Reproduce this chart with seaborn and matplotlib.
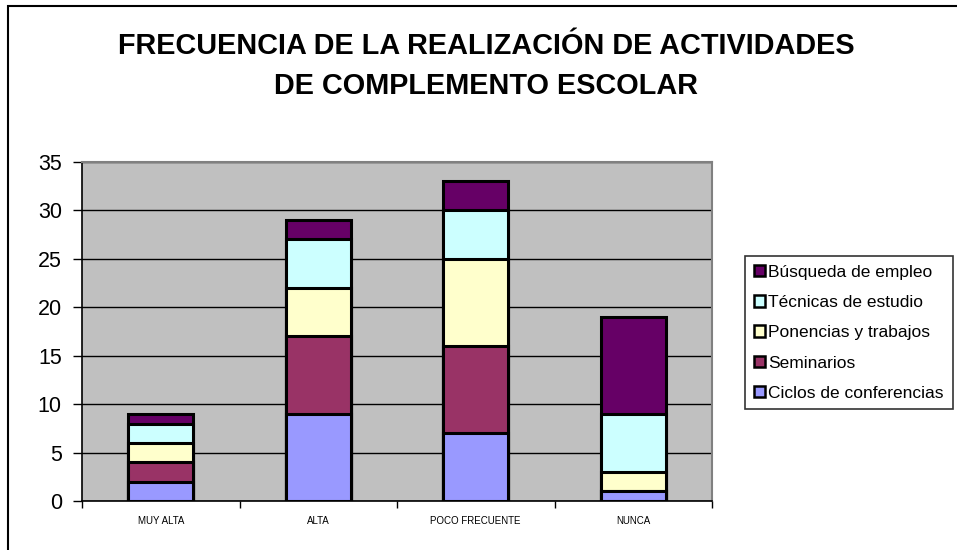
import matplotlib
matplotlib.use("Agg")
import matplotlib.pyplot as plt
import matplotlib.patches as mpatches
import seaborn as sns
import numpy as np
import pandas as pd

categorias = ["MUY ALTA", "ALTA", "POCO FRECUENTE", "NUNCA"]
series = ["Ciclos de conferencias", "Seminarios", "Ponencias y trabajos",
          "Técnicas de estudio", "Búsqueda de empleo"]
ciclos = [2, 9, 7, 1]
seminarios = [2, 8, 9, 0]
ponencias = [2, 5, 9, 2]
tecnicas = [2, 5, 5, 6]
busqueda = [1, 2, 3, 10]
colores = ["#9999FF", "#993366", "#FFFFCC", "#CCFFFF", "#660066"]
titulo = "FRECUENCIA DE LA REALIZACIÓN DE ACTIVIDADES\nDE COMPLEMENTO ESCOLAR"

sns.set_style("white")
plt.rcParams["font.family"] = ["Liberation Sans", "DejaVu Sans"]
plt.rcParams["text.color"] = "black"
plt.rcParams["xtick.color"] = "black"
plt.rcParams["ytick.color"] = "black"
plt.rcParams["xtick.labelcolor"] = "black"
plt.rcParams["ytick.labelcolor"] = "black"

fig = plt.figure(figsize=(9.57, 5.5), dpi=100)
ax = fig.add_axes([82/957, 1-501/550, (712-82)/957, (501-162)/550])
ax.set_facecolor("#C0C0C0")

valores = [ciclos, seminarios, ponencias, tecnicas, busqueda]
acum = np.cumsum(np.array(valores), axis=0)
# draw from the top-most cumulative down so lower segments overlay
for i in range(len(series) - 1, -1, -1):
    df = pd.DataFrame({"cat": categorias, "val": acum[i]})
    sns.barplot(data=df, x="cat", y="val", order=categorias, color=colores[i],
                saturation=1, width=0.41, edgecolor="black", linewidth=2.2,
                ax=ax, zorder=3)

ax.set_ylim(0, 35)
ax.set_xlim(-0.5, 3.5)
ax.set_yticks(range(0, 36, 5))
ax.yaxis.grid(True, color="black", linewidth=1)
ax.set_axisbelow(True)
ax.tick_params(axis="y", labelsize=15.5, length=6.5, width=1, direction="out",
               left=True, pad=8)
ax.set_xticks(range(4))
ax.set_xticklabels(categorias, fontsize=7)
ax.set_xticks(np.arange(-0.5, 4, 1), minor=True)
ax.tick_params(axis="x", which="major", length=0, pad=11)
ax.tick_params(axis="x", which="minor", length=5, width=1, direction="out", bottom=True)
ax.set_xlabel("")
ax.set_ylabel("")
for s in ["top", "right"]:
    ax.spines[s].set_color("#808080")
    ax.spines[s].set_linewidth(1.5)
for s in ["left", "bottom"]:
    ax.spines[s].set_color("black")
    ax.spines[s].set_linewidth(1.2)

fig.text(0.508, 1 - 66/550, titulo, ha="center", va="center", fontsize=20.8,
         fontweight="bold", linespacing=1.55, color="black")

handles = [mpatches.Patch(facecolor=colores[i], edgecolor="black", linewidth=1.8,
                          label=series[i]) for i in range(len(series) - 1, -1, -1)]
leg = fig.legend(handles=handles, loc="upper left",
                 bbox_to_anchor=(745/957, 1-256/550), fontsize=12.5,
                 frameon=True, fancybox=False, edgecolor="black",
                 handlelength=0.65, handleheight=0.65, handletextpad=0.2,
                 labelspacing=0.88, borderpad=0.5, borderaxespad=0)
leg.get_frame().set_linewidth(1.2)
for t in leg.get_texts():
    t.set_color("black")

fig.add_artist(mpatches.Rectangle((8/957, -0.05), 1.0, 1 - 6/550 + 0.05,
                                  transform=fig.transFigure, fill=False,
                                  edgecolor="black", linewidth=1.5))

fig.savefig("out.png", dpi=100)
